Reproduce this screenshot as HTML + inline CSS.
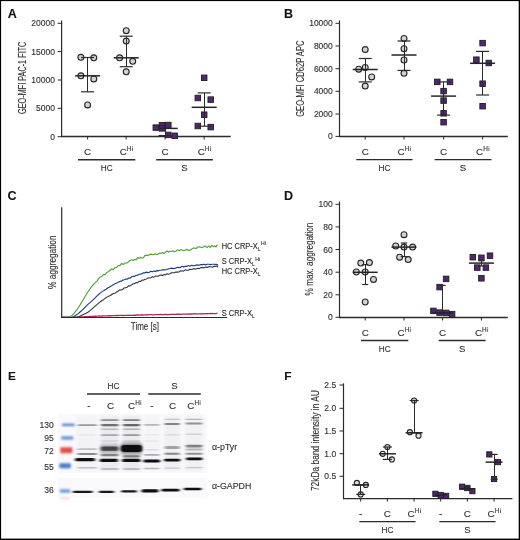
<!DOCTYPE html>
<html><head><meta charset="utf-8"><style>
html,body{margin:0;padding:0;background:#fff;}
body{width:520px;height:540px;overflow:hidden;position:relative;font-family:"Liberation Sans", sans-serif;}
svg{position:absolute;left:0;top:0;will-change:transform;}
svg text{font-family:"Liberation Sans", sans-serif;stroke:#303030;stroke-width:0.12px;}
</style></head><body>
<svg width="520" height="540" viewBox="0 0 520 540">
<rect x="0" y="0" width="520" height="540" fill="#fff"/>
<text x="7.8" y="18.2" font-size="12.5" text-anchor="start" font-weight="bold" fill="#111" >A</text>
<text transform="translate(25.7,114) rotate(-90)" font-size="10.5" fill="#303030" stroke="#303030" stroke-width="0.2" textLength="72.4" lengthAdjust="spacingAndGlyphs">GEO-MFI PAC-1 FITC</text>
<line x1="61.6" y1="20.5" x2="61.6" y2="137.0" stroke="#2b2b2b" stroke-width="1.2"/>
<line x1="57.6" y1="23.3" x2="61.6" y2="23.3" stroke="#2b2b2b" stroke-width="1"/>
<text x="55" y="26.3" font-size="8.5" text-anchor="end" font-weight="normal" fill="#303030" >20000</text>
<line x1="57.6" y1="51.6" x2="61.6" y2="51.6" stroke="#2b2b2b" stroke-width="1"/>
<text x="55" y="54.6" font-size="8.5" text-anchor="end" font-weight="normal" fill="#303030" >15000</text>
<line x1="57.6" y1="80" x2="61.6" y2="80" stroke="#2b2b2b" stroke-width="1"/>
<text x="55" y="83.0" font-size="8.5" text-anchor="end" font-weight="normal" fill="#303030" >10000</text>
<line x1="57.6" y1="108.3" x2="61.6" y2="108.3" stroke="#2b2b2b" stroke-width="1"/>
<text x="55" y="111.3" font-size="8.5" text-anchor="end" font-weight="normal" fill="#303030" >5000</text>
<line x1="57.6" y1="136.7" x2="61.6" y2="136.7" stroke="#2b2b2b" stroke-width="1"/>
<text x="55" y="139.7" font-size="8.5" text-anchor="end" font-weight="normal" fill="#303030" >0</text>
<line x1="61.1" y1="136.5" x2="230.7" y2="136.5" stroke="#2b2b2b" stroke-width="1.3"/>
<line x1="87.6" y1="136.5" x2="87.6" y2="139.5" stroke="#2b2b2b" stroke-width="1"/>
<line x1="126.2" y1="136.5" x2="126.2" y2="139.5" stroke="#2b2b2b" stroke-width="1"/>
<line x1="165.1" y1="136.5" x2="165.1" y2="139.5" stroke="#2b2b2b" stroke-width="1"/>
<line x1="204.2" y1="136.5" x2="204.2" y2="139.5" stroke="#2b2b2b" stroke-width="1"/>
<circle cx="80.9" cy="57.3" r="2.95" fill="#d3d3d7" stroke="#252525" stroke-width="1.1"/>
<circle cx="93.8" cy="57.8" r="2.95" fill="#d3d3d7" stroke="#252525" stroke-width="1.1"/>
<circle cx="80.9" cy="75.8" r="2.95" fill="#d3d3d7" stroke="#252525" stroke-width="1.1"/>
<circle cx="93.8" cy="78.9" r="2.95" fill="#d3d3d7" stroke="#252525" stroke-width="1.1"/>
<circle cx="87.6" cy="104.9" r="2.95" fill="#d3d3d7" stroke="#252525" stroke-width="1.1"/>
<line x1="87.5" y1="57.5" x2="87.5" y2="91.8" stroke="#2b2b2b" stroke-width="1"/>
<line x1="81.1" y1="57.5" x2="94.1" y2="57.5" stroke="#2b2b2b" stroke-width="1.2"/>
<line x1="81.1" y1="91.8" x2="94.1" y2="91.8" stroke="#2b2b2b" stroke-width="1.2"/>
<line x1="75.1" y1="75.8" x2="100.1" y2="75.8" stroke="#252525" stroke-width="1.5"/>
<circle cx="126.2" cy="30.7" r="2.95" fill="#d3d3d7" stroke="#252525" stroke-width="1.1"/>
<circle cx="126.2" cy="41.1" r="2.95" fill="#d3d3d7" stroke="#252525" stroke-width="1.1"/>
<circle cx="119.6" cy="57.8" r="2.95" fill="#d3d3d7" stroke="#252525" stroke-width="1.1"/>
<circle cx="132.7" cy="61.3" r="2.95" fill="#d3d3d7" stroke="#252525" stroke-width="1.1"/>
<circle cx="126.2" cy="71.8" r="2.95" fill="#d3d3d7" stroke="#252525" stroke-width="1.1"/>
<line x1="126.5" y1="36.2" x2="126.5" y2="66.7" stroke="#2b2b2b" stroke-width="1"/>
<line x1="119.7" y1="36.2" x2="132.7" y2="36.2" stroke="#2b2b2b" stroke-width="1.2"/>
<line x1="119.7" y1="66.7" x2="132.7" y2="66.7" stroke="#2b2b2b" stroke-width="1.2"/>
<line x1="113.7" y1="57.8" x2="138.7" y2="57.8" stroke="#252525" stroke-width="1.5"/>
<rect x="153.05" y="124.85" width="5.5" height="5.5" fill="#512672" stroke="#1e1e1e" stroke-width="0.9"/>
<rect x="159.25" y="122.45" width="5.5" height="5.5" fill="#512672" stroke="#1e1e1e" stroke-width="0.9"/>
<rect x="159.25" y="125.65" width="5.5" height="5.5" fill="#512672" stroke="#1e1e1e" stroke-width="0.9"/>
<rect x="165.55" y="122.25" width="5.5" height="5.5" fill="#512672" stroke="#1e1e1e" stroke-width="0.9"/>
<rect x="165.55" y="132.15" width="5.5" height="5.5" fill="#512672" stroke="#1e1e1e" stroke-width="0.9"/>
<rect x="171.95" y="133.05" width="5.5" height="5.5" fill="#512672" stroke="#1e1e1e" stroke-width="0.9"/>
<line x1="165.5" y1="128.4" x2="165.5" y2="135.6" stroke="#2b2b2b" stroke-width="1"/>
<line x1="158.6" y1="128.4" x2="171.6" y2="128.4" stroke="#2b2b2b" stroke-width="1.2"/>
<line x1="158.6" y1="135.6" x2="171.6" y2="135.6" stroke="#2b2b2b" stroke-width="1.2"/>
<line x1="159" y1="128.4" x2="177.7" y2="128.4" stroke="#252525" stroke-width="1.5"/>
<rect x="201.45" y="75.05" width="5.5" height="5.5" fill="#512672" stroke="#1e1e1e" stroke-width="0.9"/>
<rect x="195.05" y="95.25" width="5.5" height="5.5" fill="#512672" stroke="#1e1e1e" stroke-width="0.9"/>
<rect x="207.95" y="96.85" width="5.5" height="5.5" fill="#512672" stroke="#1e1e1e" stroke-width="0.9"/>
<rect x="201.45" y="111.95" width="5.5" height="5.5" fill="#512672" stroke="#1e1e1e" stroke-width="0.9"/>
<rect x="195.05" y="123.25" width="5.5" height="5.5" fill="#512672" stroke="#1e1e1e" stroke-width="0.9"/>
<rect x="207.95" y="124.35" width="5.5" height="5.5" fill="#512672" stroke="#1e1e1e" stroke-width="0.9"/>
<line x1="204.5" y1="92.9" x2="204.5" y2="126.2" stroke="#2b2b2b" stroke-width="1"/>
<line x1="197.7" y1="92.9" x2="210.7" y2="92.9" stroke="#2b2b2b" stroke-width="1.2"/>
<line x1="197.7" y1="126.2" x2="210.7" y2="126.2" stroke="#2b2b2b" stroke-width="1.2"/>
<line x1="191.7" y1="107.3" x2="216.7" y2="107.3" stroke="#252525" stroke-width="1.5"/>
<text x="87.6" y="154.8" font-size="9.9" text-anchor="middle" font-weight="normal" fill="#303030" >C</text>
<text x="119.71" y="154.8" font-size="9.9" fill="#303030">C<tspan font-size="6.4" dy="-3.9">H</tspan></text>
<rect x="132.09" y="147.70" width="0.8" height="3.2" fill="#303030" opacity="0.9"/>
<rect x="132.09" y="146.40" width="0.8" height="0.8" fill="#303030" opacity="0.9"/>
<text x="165.1" y="154.8" font-size="9.9" text-anchor="middle" font-weight="normal" fill="#303030" >C</text>
<text x="197.71" y="154.8" font-size="9.9" fill="#303030">C<tspan font-size="6.4" dy="-3.9">H</tspan></text>
<rect x="210.09" y="147.70" width="0.8" height="3.2" fill="#303030" opacity="0.9"/>
<rect x="210.09" y="146.40" width="0.8" height="0.8" fill="#303030" opacity="0.9"/>
<line x1="78" y1="159.7" x2="135.3" y2="159.7" stroke="#2b2b2b" stroke-width="1.4"/>
<text x="106.65" y="170.7" font-size="9.6" text-anchor="middle" font-weight="normal" fill="#303030" textLength="11.9" lengthAdjust="spacingAndGlyphs" >HC</text>
<line x1="156.2" y1="159.7" x2="212.9" y2="159.7" stroke="#2b2b2b" stroke-width="1.4"/>
<text x="184.55" y="170.7" font-size="9.6" text-anchor="middle" font-weight="normal" fill="#303030" >S</text>
<text x="283.9" y="18.3" font-size="12.5" text-anchor="start" font-weight="bold" fill="#111" >B</text>
<text transform="translate(303.8,116.8) rotate(-90)" font-size="10.5" fill="#303030" stroke="#303030" stroke-width="0.2" textLength="76.3" lengthAdjust="spacingAndGlyphs">GEO-MFI CD62P APC</text>
<line x1="339.5" y1="20.5" x2="339.5" y2="137.0" stroke="#2b2b2b" stroke-width="1.2"/>
<line x1="335.5" y1="23.3" x2="339.5" y2="23.3" stroke="#2b2b2b" stroke-width="1"/>
<text x="332.8" y="26.3" font-size="8.5" text-anchor="end" font-weight="normal" fill="#303030" >10000</text>
<line x1="335.5" y1="46" x2="339.5" y2="46" stroke="#2b2b2b" stroke-width="1"/>
<text x="332.8" y="49.0" font-size="8.5" text-anchor="end" font-weight="normal" fill="#303030" >8000</text>
<line x1="335.5" y1="68.7" x2="339.5" y2="68.7" stroke="#2b2b2b" stroke-width="1"/>
<text x="332.8" y="71.7" font-size="8.5" text-anchor="end" font-weight="normal" fill="#303030" >6000</text>
<line x1="335.5" y1="91.3" x2="339.5" y2="91.3" stroke="#2b2b2b" stroke-width="1"/>
<text x="332.8" y="94.3" font-size="8.5" text-anchor="end" font-weight="normal" fill="#303030" >4000</text>
<line x1="335.5" y1="114" x2="339.5" y2="114" stroke="#2b2b2b" stroke-width="1"/>
<text x="332.8" y="117.0" font-size="8.5" text-anchor="end" font-weight="normal" fill="#303030" >2000</text>
<line x1="335.5" y1="136.4" x2="339.5" y2="136.4" stroke="#2b2b2b" stroke-width="1"/>
<text x="332.8" y="139.4" font-size="8.5" text-anchor="end" font-weight="normal" fill="#303030" >0</text>
<line x1="339.0" y1="136.5" x2="507.8" y2="136.5" stroke="#2b2b2b" stroke-width="1.3"/>
<line x1="365.2" y1="136.5" x2="365.2" y2="139.5" stroke="#2b2b2b" stroke-width="1"/>
<line x1="404" y1="136.5" x2="404" y2="139.5" stroke="#2b2b2b" stroke-width="1"/>
<line x1="443.6" y1="136.5" x2="443.6" y2="139.5" stroke="#2b2b2b" stroke-width="1"/>
<line x1="482.6" y1="136.5" x2="482.6" y2="139.5" stroke="#2b2b2b" stroke-width="1"/>
<circle cx="365.2" cy="49.6" r="2.95" fill="#d3d3d7" stroke="#252525" stroke-width="1.1"/>
<circle cx="358.7" cy="69.2" r="2.95" fill="#d3d3d7" stroke="#252525" stroke-width="1.1"/>
<circle cx="365.2" cy="67.4" r="2.95" fill="#d3d3d7" stroke="#252525" stroke-width="1.1"/>
<circle cx="371.7" cy="76.9" r="2.95" fill="#d3d3d7" stroke="#252525" stroke-width="1.1"/>
<circle cx="365.2" cy="86.1" r="2.95" fill="#d3d3d7" stroke="#252525" stroke-width="1.1"/>
<line x1="365.5" y1="58.5" x2="365.5" y2="81.9" stroke="#2b2b2b" stroke-width="1"/>
<line x1="358.7" y1="58.5" x2="371.7" y2="58.5" stroke="#2b2b2b" stroke-width="1.2"/>
<line x1="358.7" y1="81.9" x2="371.7" y2="81.9" stroke="#2b2b2b" stroke-width="1.2"/>
<line x1="352.7" y1="69.5" x2="377.7" y2="69.5" stroke="#252525" stroke-width="1.5"/>
<circle cx="404" cy="38.4" r="2.95" fill="#d3d3d7" stroke="#252525" stroke-width="1.1"/>
<circle cx="404" cy="48.7" r="2.95" fill="#d3d3d7" stroke="#252525" stroke-width="1.1"/>
<circle cx="404" cy="60" r="2.95" fill="#d3d3d7" stroke="#252525" stroke-width="1.1"/>
<circle cx="404" cy="73.3" r="2.95" fill="#d3d3d7" stroke="#252525" stroke-width="1.1"/>
<line x1="404.5" y1="41" x2="404.5" y2="70.4" stroke="#2b2b2b" stroke-width="1"/>
<line x1="397.5" y1="41" x2="410.5" y2="41" stroke="#2b2b2b" stroke-width="1.2"/>
<line x1="397.5" y1="70.4" x2="410.5" y2="70.4" stroke="#2b2b2b" stroke-width="1.2"/>
<line x1="391.5" y1="55" x2="416.5" y2="55" stroke="#252525" stroke-width="1.5"/>
<rect x="434.55" y="79.15" width="5.5" height="5.5" fill="#512672" stroke="#1e1e1e" stroke-width="0.9"/>
<rect x="447.25" y="79.15" width="5.5" height="5.5" fill="#512672" stroke="#1e1e1e" stroke-width="0.9"/>
<rect x="440.85" y="88.35" width="5.5" height="5.5" fill="#512672" stroke="#1e1e1e" stroke-width="0.9"/>
<rect x="440.85" y="97.85" width="5.5" height="5.5" fill="#512672" stroke="#1e1e1e" stroke-width="0.9"/>
<rect x="440.85" y="110.55" width="5.5" height="5.5" fill="#512672" stroke="#1e1e1e" stroke-width="0.9"/>
<rect x="440.85" y="119.45" width="5.5" height="5.5" fill="#512672" stroke="#1e1e1e" stroke-width="0.9"/>
<line x1="443.5" y1="81.9" x2="443.5" y2="115.1" stroke="#2b2b2b" stroke-width="1"/>
<line x1="437.1" y1="81.9" x2="450.1" y2="81.9" stroke="#2b2b2b" stroke-width="1.2"/>
<line x1="437.1" y1="115.1" x2="450.1" y2="115.1" stroke="#2b2b2b" stroke-width="1.2"/>
<line x1="431.1" y1="96.1" x2="456.1" y2="96.1" stroke="#252525" stroke-width="1.5"/>
<rect x="479.85" y="40.35" width="5.5" height="5.5" fill="#512672" stroke="#1e1e1e" stroke-width="0.9"/>
<rect x="473.65" y="56.95" width="5.5" height="5.5" fill="#512672" stroke="#1e1e1e" stroke-width="0.9"/>
<rect x="486.05" y="60.25" width="5.5" height="5.5" fill="#512672" stroke="#1e1e1e" stroke-width="0.9"/>
<rect x="479.85" y="80.95" width="5.5" height="5.5" fill="#512672" stroke="#1e1e1e" stroke-width="0.9"/>
<rect x="479.85" y="103.45" width="5.5" height="5.5" fill="#512672" stroke="#1e1e1e" stroke-width="0.9"/>
<line x1="482.5" y1="51.4" x2="482.5" y2="95" stroke="#2b2b2b" stroke-width="1"/>
<line x1="476.1" y1="51.4" x2="489.1" y2="51.4" stroke="#2b2b2b" stroke-width="1.2"/>
<line x1="476.1" y1="95" x2="489.1" y2="95" stroke="#2b2b2b" stroke-width="1.2"/>
<line x1="470.1" y1="63.3" x2="495.1" y2="63.3" stroke="#252525" stroke-width="1.5"/>
<text x="365.2" y="154.8" font-size="9.9" text-anchor="middle" font-weight="normal" fill="#303030" >C</text>
<text x="397.51" y="154.8" font-size="9.9" fill="#303030">C<tspan font-size="6.4" dy="-3.9">H</tspan></text>
<rect x="409.89" y="147.70" width="0.8" height="3.2" fill="#303030" opacity="0.9"/>
<rect x="409.89" y="146.40" width="0.8" height="0.8" fill="#303030" opacity="0.9"/>
<text x="443.6" y="154.8" font-size="9.9" text-anchor="middle" font-weight="normal" fill="#303030" >C</text>
<text x="476.11" y="154.8" font-size="9.9" fill="#303030">C<tspan font-size="6.4" dy="-3.9">H</tspan></text>
<rect x="488.49" y="147.70" width="0.8" height="3.2" fill="#303030" opacity="0.9"/>
<rect x="488.49" y="146.40" width="0.8" height="0.8" fill="#303030" opacity="0.9"/>
<line x1="356.3" y1="159.6" x2="412.6" y2="159.6" stroke="#2b2b2b" stroke-width="1.4"/>
<text x="384.45000000000005" y="170.7" font-size="9.6" text-anchor="middle" font-weight="normal" fill="#303030" textLength="11.9" lengthAdjust="spacingAndGlyphs" >HC</text>
<line x1="434.6" y1="159.6" x2="491.5" y2="159.6" stroke="#2b2b2b" stroke-width="1.4"/>
<text x="463.05" y="170.7" font-size="9.6" text-anchor="middle" font-weight="normal" fill="#303030" >S</text>
<text x="283.9" y="200.2" font-size="12.5" text-anchor="start" font-weight="bold" fill="#111" >D</text>
<text transform="translate(312.5,295.4) rotate(-90)" font-size="10.5" fill="#303030" stroke="#303030" stroke-width="0.2" textLength="72.7" lengthAdjust="spacingAndGlyphs">% max. aggregation</text>
<line x1="339.5" y1="201.5" x2="339.5" y2="318.0" stroke="#2b2b2b" stroke-width="1.2"/>
<line x1="335.5" y1="204.3" x2="339.5" y2="204.3" stroke="#2b2b2b" stroke-width="1"/>
<text x="332.8" y="207.3" font-size="8.5" text-anchor="end" font-weight="normal" fill="#303030" >100</text>
<line x1="335.5" y1="226.9" x2="339.5" y2="226.9" stroke="#2b2b2b" stroke-width="1"/>
<text x="332.8" y="229.9" font-size="8.5" text-anchor="end" font-weight="normal" fill="#303030" >80</text>
<line x1="335.5" y1="249.5" x2="339.5" y2="249.5" stroke="#2b2b2b" stroke-width="1"/>
<text x="332.8" y="252.5" font-size="8.5" text-anchor="end" font-weight="normal" fill="#303030" >60</text>
<line x1="335.5" y1="272.2" x2="339.5" y2="272.2" stroke="#2b2b2b" stroke-width="1"/>
<text x="332.8" y="275.2" font-size="8.5" text-anchor="end" font-weight="normal" fill="#303030" >40</text>
<line x1="335.5" y1="294.8" x2="339.5" y2="294.8" stroke="#2b2b2b" stroke-width="1"/>
<text x="332.8" y="297.8" font-size="8.5" text-anchor="end" font-weight="normal" fill="#303030" >20</text>
<line x1="335.5" y1="317.3" x2="339.5" y2="317.3" stroke="#2b2b2b" stroke-width="1"/>
<text x="332.8" y="320.3" font-size="8.5" text-anchor="end" font-weight="normal" fill="#303030" >0</text>
<line x1="339.0" y1="317.5" x2="507.8" y2="317.5" stroke="#2b2b2b" stroke-width="1.3"/>
<line x1="365.2" y1="317.5" x2="365.2" y2="320.5" stroke="#2b2b2b" stroke-width="1"/>
<line x1="404" y1="317.5" x2="404" y2="320.5" stroke="#2b2b2b" stroke-width="1"/>
<line x1="442.6" y1="317.5" x2="442.6" y2="320.5" stroke="#2b2b2b" stroke-width="1"/>
<line x1="481.4" y1="317.5" x2="481.4" y2="320.5" stroke="#2b2b2b" stroke-width="1"/>
<circle cx="360.8" cy="263.1" r="2.95" fill="#d3d3d7" stroke="#252525" stroke-width="1.1"/>
<circle cx="369.4" cy="262.6" r="2.95" fill="#d3d3d7" stroke="#252525" stroke-width="1.1"/>
<circle cx="356.3" cy="272" r="2.95" fill="#d3d3d7" stroke="#252525" stroke-width="1.1"/>
<circle cx="365.2" cy="272" r="2.95" fill="#d3d3d7" stroke="#252525" stroke-width="1.1"/>
<circle cx="373.5" cy="279.4" r="2.95" fill="#d3d3d7" stroke="#252525" stroke-width="1.1"/>
<circle cx="365.2" cy="302" r="2.95" fill="#d3d3d7" stroke="#252525" stroke-width="1.1"/>
<line x1="365.5" y1="264.6" x2="365.5" y2="284.5" stroke="#2b2b2b" stroke-width="1"/>
<line x1="362.2" y1="264.6" x2="368.2" y2="264.6" stroke="#2b2b2b" stroke-width="1.2"/>
<line x1="362.2" y1="284.5" x2="368.2" y2="284.5" stroke="#2b2b2b" stroke-width="1.2"/>
<line x1="352.7" y1="272.3" x2="377.7" y2="272.3" stroke="#252525" stroke-width="1.5"/>
<circle cx="404" cy="234.7" r="2.95" fill="#d3d3d7" stroke="#252525" stroke-width="1.1"/>
<circle cx="395.7" cy="246" r="2.95" fill="#d3d3d7" stroke="#252525" stroke-width="1.1"/>
<circle cx="404" cy="247.1" r="2.95" fill="#d3d3d7" stroke="#252525" stroke-width="1.1"/>
<circle cx="412.6" cy="247.1" r="2.95" fill="#d3d3d7" stroke="#252525" stroke-width="1.1"/>
<circle cx="399.6" cy="257.2" r="2.95" fill="#d3d3d7" stroke="#252525" stroke-width="1.1"/>
<circle cx="408.2" cy="259.6" r="2.95" fill="#d3d3d7" stroke="#252525" stroke-width="1.1"/>
<line x1="404.5" y1="243" x2="404.5" y2="256.6" stroke="#2b2b2b" stroke-width="1"/>
<line x1="400.75" y1="243" x2="407.25" y2="243" stroke="#2b2b2b" stroke-width="1.2"/>
<line x1="400.75" y1="256.6" x2="407.25" y2="256.6" stroke="#2b2b2b" stroke-width="1.2"/>
<line x1="391.5" y1="247.1" x2="416.5" y2="247.1" stroke="#252525" stroke-width="1.5"/>
<rect x="443.35" y="276.15" width="5.5" height="5.5" fill="#512672" stroke="#1e1e1e" stroke-width="0.9"/>
<rect x="436.85" y="284.35" width="5.5" height="5.5" fill="#512672" stroke="#1e1e1e" stroke-width="0.9"/>
<rect x="430.65" y="308.15" width="5.5" height="5.5" fill="#512672" stroke="#1e1e1e" stroke-width="0.9"/>
<rect x="436.85" y="309.85" width="5.5" height="5.5" fill="#512672" stroke="#1e1e1e" stroke-width="0.9"/>
<rect x="443.35" y="310.15" width="5.5" height="5.5" fill="#512672" stroke="#1e1e1e" stroke-width="0.9"/>
<rect x="449.35" y="311.35" width="5.5" height="5.5" fill="#512672" stroke="#1e1e1e" stroke-width="0.9"/>
<line x1="442.5" y1="285.4" x2="442.5" y2="313" stroke="#2b2b2b" stroke-width="1"/>
<line x1="439.6" y1="285.4" x2="445.6" y2="285.4" stroke="#2b2b2b" stroke-width="1.2"/>
<line x1="439.6" y1="313" x2="445.6" y2="313" stroke="#2b2b2b" stroke-width="1.2"/>
<line x1="432.6" y1="313" x2="452.6" y2="313" stroke="#252525" stroke-width="1.5"/>
<rect x="470.05" y="254.45" width="5.5" height="5.5" fill="#512672" stroke="#1e1e1e" stroke-width="0.9"/>
<rect x="478.65" y="255.05" width="5.5" height="5.5" fill="#512672" stroke="#1e1e1e" stroke-width="0.9"/>
<rect x="487.25" y="252.95" width="5.5" height="5.5" fill="#512672" stroke="#1e1e1e" stroke-width="0.9"/>
<rect x="474.55" y="264.85" width="5.5" height="5.5" fill="#512672" stroke="#1e1e1e" stroke-width="0.9"/>
<rect x="483.15" y="264.85" width="5.5" height="5.5" fill="#512672" stroke="#1e1e1e" stroke-width="0.9"/>
<rect x="478.65" y="275.55" width="5.5" height="5.5" fill="#512672" stroke="#1e1e1e" stroke-width="0.9"/>
<line x1="481.5" y1="260.8" x2="481.5" y2="266" stroke="#2b2b2b" stroke-width="1"/>
<line x1="478.4" y1="260.8" x2="484.4" y2="260.8" stroke="#2b2b2b" stroke-width="1.2"/>
<line x1="478.4" y1="266" x2="484.4" y2="266" stroke="#2b2b2b" stroke-width="1.2"/>
<line x1="468.9" y1="263.1" x2="493.9" y2="263.1" stroke="#252525" stroke-width="1.5"/>
<text x="365.2" y="335.7" font-size="9.9" text-anchor="middle" font-weight="normal" fill="#303030" >C</text>
<text x="397.51" y="335.7" font-size="9.9" fill="#303030">C<tspan font-size="6.4" dy="-3.9">H</tspan></text>
<rect x="409.89" y="328.60" width="0.8" height="3.2" fill="#303030" opacity="0.9"/>
<rect x="409.89" y="327.30" width="0.8" height="0.8" fill="#303030" opacity="0.9"/>
<text x="442.6" y="335.7" font-size="9.9" text-anchor="middle" font-weight="normal" fill="#303030" >C</text>
<text x="474.91" y="335.7" font-size="9.9" fill="#303030">C<tspan font-size="6.4" dy="-3.9">H</tspan></text>
<rect x="487.29" y="328.60" width="0.8" height="3.2" fill="#303030" opacity="0.9"/>
<rect x="487.29" y="327.30" width="0.8" height="0.8" fill="#303030" opacity="0.9"/>
<line x1="361" y1="340.5" x2="408.3" y2="340.5" stroke="#2b2b2b" stroke-width="1.4"/>
<text x="384.65" y="351.5" font-size="9.6" text-anchor="middle" font-weight="normal" fill="#303030" textLength="11.9" lengthAdjust="spacingAndGlyphs" >HC</text>
<line x1="438.7" y1="340.5" x2="485.6" y2="340.5" stroke="#2b2b2b" stroke-width="1.4"/>
<text x="462.15" y="351.5" font-size="9.6" text-anchor="middle" font-weight="normal" fill="#303030" >S</text>
<text x="284.2" y="380.4" font-size="11.8" text-anchor="start" font-weight="bold" fill="#111" >F</text>
<text transform="translate(318.6,491.1) rotate(-90)" font-size="10.5" fill="#303030" stroke="#303030" stroke-width="0.2" textLength="101" lengthAdjust="spacingAndGlyphs">72kDa band intensity in AU</text>
<line x1="343.5" y1="383.3" x2="343.5" y2="499.1" stroke="#2b2b2b" stroke-width="1.2"/>
<line x1="339.5" y1="385" x2="343.5" y2="385" stroke="#2b2b2b" stroke-width="1"/>
<text x="336.2" y="388.0" font-size="8.5" text-anchor="end" font-weight="normal" fill="#303030" >2.5</text>
<line x1="339.5" y1="408.3" x2="343.5" y2="408.3" stroke="#2b2b2b" stroke-width="1"/>
<text x="336.2" y="411.3" font-size="8.5" text-anchor="end" font-weight="normal" fill="#303030" >2.0</text>
<line x1="339.5" y1="431" x2="343.5" y2="431" stroke="#2b2b2b" stroke-width="1"/>
<text x="336.2" y="434.0" font-size="8.5" text-anchor="end" font-weight="normal" fill="#303030" >1.5</text>
<line x1="339.5" y1="453.7" x2="343.5" y2="453.7" stroke="#2b2b2b" stroke-width="1"/>
<text x="336.2" y="456.7" font-size="8.5" text-anchor="end" font-weight="normal" fill="#303030" >1.0</text>
<line x1="339.5" y1="476.3" x2="343.5" y2="476.3" stroke="#2b2b2b" stroke-width="1"/>
<text x="336.2" y="479.3" font-size="8.5" text-anchor="end" font-weight="normal" fill="#303030" >0.5</text>
<line x1="343.0" y1="498.6" x2="512.4" y2="498.6" stroke="#2b2b2b" stroke-width="1.3"/>
<line x1="360.7" y1="498.6" x2="360.7" y2="501.6" stroke="#2b2b2b" stroke-width="1"/>
<line x1="387.4" y1="498.6" x2="387.4" y2="501.6" stroke="#2b2b2b" stroke-width="1"/>
<line x1="414.1" y1="498.6" x2="414.1" y2="501.6" stroke="#2b2b2b" stroke-width="1"/>
<line x1="440.7" y1="498.6" x2="440.7" y2="501.6" stroke="#2b2b2b" stroke-width="1"/>
<line x1="467.4" y1="498.6" x2="467.4" y2="501.6" stroke="#2b2b2b" stroke-width="1"/>
<line x1="494.1" y1="498.6" x2="494.1" y2="501.6" stroke="#2b2b2b" stroke-width="1"/>
<circle cx="356.9" cy="482.9" r="2.55" fill="#e0e0e0" stroke="#252525" stroke-width="1.1"/>
<circle cx="365.8" cy="484.9" r="2.55" fill="#e0e0e0" stroke="#252525" stroke-width="1.1"/>
<circle cx="360.7" cy="494.4" r="2.55" fill="#e0e0e0" stroke="#252525" stroke-width="1.1"/>
<line x1="360.5" y1="484.9" x2="360.5" y2="494.4" stroke="#2b2b2b" stroke-width="1"/>
<line x1="356.2" y1="484.9" x2="365.2" y2="484.9" stroke="#2b2b2b" stroke-width="1.2"/>
<line x1="356.2" y1="494.4" x2="365.2" y2="494.4" stroke="#2b2b2b" stroke-width="1.2"/>
<line x1="352.2" y1="484.9" x2="369.2" y2="484.9" stroke="#252525" stroke-width="1.5"/>
<circle cx="387.4" cy="447" r="2.55" fill="#e0e0e0" stroke="#252525" stroke-width="1.1"/>
<circle cx="382.7" cy="453.8" r="2.55" fill="#e0e0e0" stroke="#252525" stroke-width="1.1"/>
<circle cx="391.9" cy="459.4" r="2.55" fill="#e0e0e0" stroke="#252525" stroke-width="1.1"/>
<line x1="387.5" y1="447" x2="387.5" y2="459.4" stroke="#2b2b2b" stroke-width="1"/>
<line x1="382.9" y1="447" x2="391.9" y2="447" stroke="#2b2b2b" stroke-width="1.2"/>
<line x1="382.9" y1="459.4" x2="391.9" y2="459.4" stroke="#2b2b2b" stroke-width="1.2"/>
<line x1="378.9" y1="453.8" x2="395.9" y2="453.8" stroke="#252525" stroke-width="1.5"/>
<circle cx="414.1" cy="400.5" r="2.55" fill="#e0e0e0" stroke="#252525" stroke-width="1.1"/>
<circle cx="409.9" cy="432.2" r="2.55" fill="#e0e0e0" stroke="#252525" stroke-width="1.1"/>
<circle cx="418.5" cy="435.7" r="2.55" fill="#e0e0e0" stroke="#252525" stroke-width="1.1"/>
<line x1="414.5" y1="400.5" x2="414.5" y2="432.8" stroke="#2b2b2b" stroke-width="1"/>
<line x1="409.6" y1="400.5" x2="418.6" y2="400.5" stroke="#2b2b2b" stroke-width="1.2"/>
<line x1="409.6" y1="432.8" x2="418.6" y2="432.8" stroke="#2b2b2b" stroke-width="1.2"/>
<line x1="405.6" y1="432.8" x2="422.6" y2="432.8" stroke="#252525" stroke-width="1.5"/>
<rect x="432.80" y="491.20" width="5.2" height="5.2" fill="#512672" stroke="#1e1e1e" stroke-width="0.9"/>
<rect x="438.10" y="492.40" width="5.2" height="5.2" fill="#512672" stroke="#1e1e1e" stroke-width="0.9"/>
<rect x="443.50" y="493.30" width="5.2" height="5.2" fill="#512672" stroke="#1e1e1e" stroke-width="0.9"/>
<line x1="434.7" y1="495" x2="446.7" y2="495" stroke="#252525" stroke-width="1.5"/>
<rect x="459.50" y="484.10" width="5.2" height="5.2" fill="#512672" stroke="#1e1e1e" stroke-width="0.9"/>
<rect x="464.80" y="485.30" width="5.2" height="5.2" fill="#512672" stroke="#1e1e1e" stroke-width="0.9"/>
<rect x="469.80" y="488.50" width="5.2" height="5.2" fill="#512672" stroke="#1e1e1e" stroke-width="0.9"/>
<line x1="467.5" y1="487" x2="467.5" y2="490.5" stroke="#2b2b2b" stroke-width="1"/>
<line x1="464.4" y1="487" x2="470.4" y2="487" stroke="#2b2b2b" stroke-width="1.2"/>
<line x1="464.4" y1="490.5" x2="470.4" y2="490.5" stroke="#2b2b2b" stroke-width="1.2"/>
<line x1="460.4" y1="488.8" x2="474.4" y2="488.8" stroke="#252525" stroke-width="1.5"/>
<rect x="486.70" y="451.80" width="5.2" height="5.2" fill="#512672" stroke="#1e1e1e" stroke-width="0.9"/>
<rect x="495.30" y="459.50" width="5.2" height="5.2" fill="#512672" stroke="#1e1e1e" stroke-width="0.9"/>
<rect x="491.50" y="476.40" width="5.2" height="5.2" fill="#512672" stroke="#1e1e1e" stroke-width="0.9"/>
<line x1="494.5" y1="454.4" x2="494.5" y2="479.3" stroke="#2b2b2b" stroke-width="1"/>
<line x1="490.6" y1="454.4" x2="497.6" y2="454.4" stroke="#2b2b2b" stroke-width="1.2"/>
<line x1="490.6" y1="479.3" x2="497.6" y2="479.3" stroke="#2b2b2b" stroke-width="1.2"/>
<line x1="485.6" y1="462.1" x2="502.6" y2="462.1" stroke="#252525" stroke-width="1.5"/>
<text x="360.7" y="516.9" font-size="9.9" text-anchor="middle" font-weight="normal" fill="#303030" >-</text>
<text x="387.4" y="516.9" font-size="9.9" text-anchor="middle" font-weight="normal" fill="#303030" >C</text>
<text x="407.61" y="516.9" font-size="9.9" fill="#303030">C<tspan font-size="6.4" dy="-3.9">H</tspan></text>
<rect x="419.99" y="509.80" width="0.8" height="3.2" fill="#303030" opacity="0.9"/>
<rect x="419.99" y="508.50" width="0.8" height="0.8" fill="#303030" opacity="0.9"/>
<text x="440.7" y="516.9" font-size="9.9" text-anchor="middle" font-weight="normal" fill="#303030" >-</text>
<text x="467.4" y="516.9" font-size="9.9" text-anchor="middle" font-weight="normal" fill="#303030" >C</text>
<text x="487.61" y="516.9" font-size="9.9" fill="#303030">C<tspan font-size="6.4" dy="-3.9">H</tspan></text>
<rect x="499.99" y="509.80" width="0.8" height="3.2" fill="#303030" opacity="0.9"/>
<rect x="499.99" y="508.50" width="0.8" height="0.8" fill="#303030" opacity="0.9"/>
<line x1="359.3" y1="521.6" x2="415.6" y2="521.6" stroke="#2b2b2b" stroke-width="1.4"/>
<text x="387.45000000000005" y="532.8" font-size="9.6" text-anchor="middle" font-weight="normal" fill="#303030" textLength="11.9" lengthAdjust="spacingAndGlyphs" >HC</text>
<line x1="439.3" y1="521.6" x2="495.6" y2="521.6" stroke="#2b2b2b" stroke-width="1.4"/>
<text x="467.45000000000005" y="532.8" font-size="9.6" text-anchor="middle" font-weight="normal" fill="#303030" >S</text>
<text x="7.5" y="200.3" font-size="12.5" text-anchor="start" font-weight="bold" fill="#111" >C</text>
<text transform="translate(55.6,288.9) rotate(-90)" font-size="11" fill="#303030" stroke="#303030" stroke-width="0.2" textLength="53.5" lengthAdjust="spacingAndGlyphs">% aggregation</text>
<polyline points="62.00,317.40 62.92,317.40 64.19,317.41 65.69,317.42 67.33,317.43 69.00,317.43 70.59,317.42 72.00,317.40 73.43,317.36 74.74,317.30 76.00,317.23 77.26,317.16 78.57,317.08 80.00,317.00 81.23,316.94 82.39,316.87 83.57,316.81 84.84,316.74 86.28,316.67 87.98,316.59 90.00,316.50 90.96,316.46 91.91,316.42 92.86,316.36 93.82,316.34 94.81,316.26 95.84,316.24 96.92,316.14 98.06,316.16 99.28,316.02 100.59,316.07 102.00,316.00 103.52,315.96 105.17,315.85 106.96,315.92 108.90,315.67 111.00,315.77 111.96,315.65 112.96,315.69 113.99,315.55 115.05,315.69 116.14,315.51 117.26,315.43 118.41,315.60 119.58,315.35 120.78,315.40 122.00,315.40 123.25,315.52 124.52,315.29 125.81,315.44 127.12,315.40 128.44,315.34 129.79,315.16 131.15,315.30 132.53,315.33 133.92,315.06 135.32,315.24 136.73,314.95 138.16,315.01 139.59,315.14 141.03,314.93 142.48,315.01 143.94,314.82 145.40,314.96 146.86,314.75 148.33,314.93 149.79,314.68 151.26,314.66 152.73,314.83 154.19,314.59 155.65,314.66 157.11,314.71 158.56,314.55 160.00,314.65 161.23,314.50 162.49,314.64 163.79,314.63 165.12,314.39 166.48,314.48 167.87,314.55 169.28,314.52 170.71,314.30 172.17,314.44 173.64,314.29 175.12,314.32 176.62,314.23 178.13,314.25 179.65,314.12 181.18,314.29 182.70,314.09 184.23,314.15 185.76,314.03 187.28,313.88 188.80,314.07 190.31,313.93 191.81,313.98 193.30,313.94 194.77,313.73 196.23,313.87 197.66,313.79 199.08,313.93 200.47,313.86 201.83,313.66 203.16,313.82 204.47,313.55 205.74,313.69 206.97,313.77 208.16,313.72 209.32,313.68 210.43,313.46 211.50,313.54 212.51,313.45 213.48,313.59 214.40,313.54 215.26,313.59 216.07,313.49 216.82,313.37 217.50,313.44" fill="none" stroke="#b3294a" stroke-width="1.3" stroke-linejoin="round"/>
<polyline points="62.00,317.40 62.93,317.40 64.22,317.41 65.76,317.41 67.46,317.42 69.23,317.42 70.96,317.42 72.57,317.42 73.95,317.41 75.00,317.40 76.74,317.39 77.50,317.10 79.03,316.49 80.87,315.66 82.70,314.80 84.43,314.02 86.17,313.20 87.90,312.20 89.63,310.90 91.37,309.41 93.10,307.90 94.84,306.39 96.57,304.86 98.30,303.40 100.00,302.06 101.70,300.78 103.40,299.67 105.18,298.32 106.97,297.15 108.60,296.19 110.36,295.55 112.40,294.05 113.65,293.46 115.10,293.17 116.67,292.06 118.26,290.99 119.80,289.89 121.28,290.01 122.76,289.25 124.24,287.95 125.72,287.64 127.20,287.24 128.68,285.71 130.16,285.88 131.64,284.84 133.12,283.79 134.60,283.61 136.08,282.45 137.56,282.58 139.04,281.32 140.52,281.50 142.00,280.04 143.48,280.23 144.96,279.31 146.43,278.94 147.91,277.86 149.40,278.06 150.90,277.69 152.40,276.75 153.90,277.11 155.40,276.10 156.90,276.27 158.32,276.11 159.68,275.22 161.06,275.14 162.57,275.41 164.30,274.44 165.56,274.82 166.95,273.74 168.44,274.32 169.97,273.69 171.51,272.68 173.00,272.70 174.42,272.73 175.70,272.04 177.50,272.16 179.11,271.93 180.61,270.80 182.08,271.00 183.60,271.09 185.18,269.84 186.76,270.31 188.34,270.21 189.92,269.29 191.50,269.50 193.08,268.89 194.66,268.82 196.25,268.93 197.83,268.30 199.40,268.58 200.94,267.61 202.45,267.41 203.96,267.87 205.53,267.10 207.20,267.41 208.79,266.66 210.56,266.74 212.39,267.17 214.11,266.16 215.60,266.46 216.70,266.06 217.69,266.96 217.50,266.39" fill="none" stroke="#303644" stroke-width="1.1" stroke-linejoin="round"/>
<polyline points="62.00,317.40 63.18,317.40 64.89,317.41 66.82,317.41 68.63,317.41 70.00,317.40 71.38,317.49 72.40,317.20 73.90,316.43 75.69,315.34 77.50,314.10 79.23,312.73 80.96,311.20 82.70,309.60 84.43,307.89 86.17,306.11 87.90,304.40 89.63,302.87 91.37,301.43 93.10,299.90 94.84,298.17 96.57,296.36 98.30,294.70 99.87,293.36 101.43,292.13 103.40,290.87 104.67,289.92 106.10,289.20 107.64,288.06 109.22,287.22 110.76,286.16 112.20,285.49 113.80,284.38 115.34,283.54 116.83,283.01 118.31,282.13 119.80,281.56 121.29,281.18 122.77,280.07 124.25,279.72 125.72,279.08 127.20,279.23 128.68,277.98 130.16,278.22 131.64,276.76 133.12,276.31 134.60,276.31 136.08,275.42 137.56,275.30 139.04,274.20 140.52,274.20 142.00,273.65 143.48,272.77 144.96,272.88 146.43,272.11 147.91,272.61 149.40,272.20 150.90,271.19 152.40,271.70 153.90,271.08 155.40,271.39 156.90,270.62 158.32,270.84 159.68,270.20 161.06,270.23 162.57,269.74 164.30,269.89 165.56,269.74 166.95,269.62 168.44,268.74 169.97,268.58 171.51,268.12 173.00,268.65 174.42,268.34 175.70,268.22 177.50,267.21 179.11,267.65 180.61,267.38 182.08,266.27 183.60,266.86 185.18,266.24 186.76,266.36 188.34,265.57 189.92,266.18 191.50,265.34 193.08,265.58 194.66,265.74 196.25,264.89 197.83,265.11 199.40,265.06 200.94,264.64 202.45,264.60 203.96,264.20 205.53,264.87 207.20,264.24 208.79,264.22 210.56,264.58 212.39,264.28 214.11,264.22 215.60,264.44 216.70,264.23 217.69,265.05 217.50,264.82" fill="none" stroke="#1f3f82" stroke-width="1.15" stroke-linejoin="round"/>
<polyline points="62.00,317.40 63.17,317.41 64.88,317.42 66.64,317.42 68.00,317.40 69.06,317.56 70.00,317.10 71.49,315.82 73.31,314.03 75.00,312.20 76.97,309.70 78.80,307.00 80.74,303.83 82.70,300.50 84.65,297.21 86.60,294.00 88.48,291.06 90.50,288.20 92.10,286.19 93.83,284.20 95.50,282.35 97.02,280.86 98.48,278.84 100.00,277.17 101.63,276.55 103.31,274.69 105.00,274.65 106.67,272.59 108.33,271.71 110.00,270.25 111.67,268.93 113.33,269.68 115.00,267.57 116.67,267.41 118.33,265.59 120.00,265.65 121.67,263.46 123.33,264.48 125.00,263.13 126.67,263.04 128.33,261.99 130.00,260.50 131.59,259.77 133.19,260.50 135.00,259.24 136.27,259.93 137.64,257.52 139.08,258.47 140.54,257.34 142.00,258.26 143.45,257.69 144.93,255.34 146.41,255.29 147.91,255.39 149.40,254.64 150.90,254.15 152.40,254.79 153.90,254.63 155.40,253.70 156.90,254.74 158.32,254.00 159.68,252.96 161.06,253.59 162.57,252.54 164.30,253.51 165.56,251.96 166.95,250.96 168.44,252.05 169.97,251.36 171.51,251.51 173.00,250.72 174.42,251.86 175.70,251.22 177.50,249.86 179.11,250.79 180.61,249.85 182.08,249.89 183.60,250.73 185.18,250.18 186.76,249.36 188.34,250.12 189.92,250.35 191.50,249.33 193.08,248.14 194.66,248.09 196.25,248.47 197.83,247.04 199.40,246.84 200.95,247.22 202.48,247.62 204.02,246.38 205.58,246.16 207.20,247.67 208.68,246.01 210.30,247.44 211.94,245.42 213.49,246.74 214.85,245.82 215.90,246.80 217.24,244.92 217.50,244.99" fill="none" stroke="#52a431" stroke-width="1.15" stroke-linejoin="round"/>
<line x1="61.7" y1="207.3" x2="61.7" y2="318.0" stroke="#2b2b2b" stroke-width="1.2"/>
<line x1="61.1" y1="317.5" x2="227.2" y2="317.5" stroke="#2b2b2b" stroke-width="1.2"/>
<text transform="translate(221.7,248.7) scale(0.89,1)" x="0" y="0" font-size="8.4" fill="#282828">HC CRP-X<tspan font-size="5.6" dy="2.0">L</tspan><tspan font-size="5.8" dx="0.6" dy="-5.6">Hi</tspan></text>
<text transform="translate(221.7,264.1) scale(0.89,1)" x="0" y="0" font-size="8.4" fill="#282828">S CRP-X<tspan font-size="5.6" dy="2.0">L</tspan><tspan font-size="5.8" dx="0.6" dy="-5.6">Hi</tspan></text>
<text transform="translate(221.7,273.8) scale(0.89,1)" x="0" y="0" font-size="8.4" fill="#282828">HC CRP-X<tspan font-size="5.6" dy="2.0">L</tspan></text>
<text transform="translate(221.7,316.4) scale(0.89,1)" x="0" y="0" font-size="8.4" fill="#282828">S CRP-X<tspan font-size="5.6" dy="2.0">L</tspan></text>
<text x="130.8" y="329.9" font-size="10.5" text-anchor="start" font-weight="normal" fill="#303030" textLength="28.2" lengthAdjust="spacingAndGlyphs" >Time [s]</text>
<text x="7.9" y="380.2" font-size="11.8" text-anchor="start" font-weight="bold" fill="#111" >E</text>
<line x1="87" y1="394" x2="140" y2="394" stroke="#2b2b2b" stroke-width="1.4"/>
<text x="113.5" y="388.8" font-size="9.6" text-anchor="middle" font-weight="normal" fill="#303030" textLength="11.9" lengthAdjust="spacingAndGlyphs" >HC</text>
<line x1="148.3" y1="394" x2="200.8" y2="394" stroke="#2b2b2b" stroke-width="1.4"/>
<text x="174.55" y="388.8" font-size="9.6" text-anchor="middle" font-weight="normal" fill="#303030" >S</text>
<text x="88.8" y="408.7" font-size="9.9" text-anchor="middle" font-weight="normal" fill="#303030" >-</text>
<text x="110.5" y="408.7" font-size="9.9" text-anchor="middle" font-weight="normal" fill="#303030" >C</text>
<text x="128.01" y="408.7" font-size="9.9" fill="#303030">C<tspan font-size="6.4" dy="-3.9">H</tspan></text>
<rect x="140.39" y="401.60" width="0.8" height="3.2" fill="#303030" opacity="0.9"/>
<rect x="140.39" y="400.30" width="0.8" height="0.8" fill="#303030" opacity="0.9"/>
<text x="152" y="408.7" font-size="9.9" text-anchor="middle" font-weight="normal" fill="#303030" >-</text>
<text x="172.5" y="408.7" font-size="9.9" text-anchor="middle" font-weight="normal" fill="#303030" >C</text>
<text x="187.31" y="408.7" font-size="9.9" fill="#303030">C<tspan font-size="6.4" dy="-3.9">H</tspan></text>
<rect x="199.69" y="401.60" width="0.8" height="3.2" fill="#303030" opacity="0.9"/>
<rect x="199.69" y="400.30" width="0.8" height="0.8" fill="#303030" opacity="0.9"/>
<defs><filter id="bl" x="-30%" y="-200%" width="160%" height="500%"><feGaussianBlur stdDeviation="1.4 0.75"/></filter><filter id="bl2" x="-30%" y="-30%" width="160%" height="160%"><feGaussianBlur stdDeviation="1.5"/></filter><filter id="blt" x="-30%" y="-300%" width="160%" height="700%"><feGaussianBlur stdDeviation="1.5 0.6"/></filter><filter id="blm" x="-30%" y="-200%" width="160%" height="500%"><feGaussianBlur stdDeviation="0.9 0.8"/></filter></defs>
<rect x="57.6" y="413.6" width="149.8" height="59.7" fill="#f9f9fb"/>
<rect x="57.6" y="477.8" width="149.8" height="20.6" fill="#f9f9fb"/>
<rect x="76" y="416" width="21.5" height="55" fill="#202030" opacity="0.02" filter="url(#bl2)"/>
<rect x="100.4" y="416" width="18.69999999999999" height="55" fill="#202030" opacity="0.06" filter="url(#bl2)"/>
<rect x="122.5" y="416" width="18.0" height="55" fill="#202030" opacity="0.06" filter="url(#bl2)"/>
<rect x="143.4" y="416" width="16.799999999999983" height="55" fill="#202030" opacity="0.015" filter="url(#bl2)"/>
<rect x="164" y="416" width="16.400000000000006" height="55" fill="#202030" opacity="0.035" filter="url(#bl2)"/>
<rect x="185.1" y="416" width="17.900000000000006" height="55" fill="#202030" opacity="0.03" filter="url(#bl2)"/>
<rect x="61.8" y="423.65000000000003" width="13.0" height="2.3" rx="1" fill="#4a78c8" opacity="1" filter="url(#blm)"/>
<rect x="61.3" y="436.2" width="12.100000000000009" height="3.6" rx="1" fill="#6d96d8" opacity="1" filter="url(#blm)"/>
<rect x="60.3" y="447.3" width="12.100000000000009" height="6.0" rx="1" fill="#e25050" opacity="1" filter="url(#blm)"/>
<rect x="59.4" y="463.3" width="11.399999999999999" height="5.0" rx="1" fill="#4d7ccc" opacity="1" filter="url(#blm)"/>
<rect x="59.8" y="489.2" width="10.5" height="3.6" rx="1" fill="#6b9ee0" opacity="1" filter="url(#blm)"/>
<rect x="60" y="498.20000000000005" width="10" height="0.8" rx="1" fill="#e06070" opacity="0.6" filter="url(#blm)"/>
<rect x="77.5" y="424.20" width="19.50" height="1.8" rx="0.9" fill="#080810" opacity="0.375" filter="url(#blt)"/>
<rect x="77.5" y="434.30" width="19.50" height="1.4" rx="0.7" fill="#080810" opacity="0.045" filter="url(#blt)"/>
<rect x="77.5" y="448.30" width="19.50" height="1.8" rx="0.9" fill="#080810" opacity="0.225" filter="url(#blt)"/>
<rect x="77.5" y="452.90" width="19.50" height="2.2" rx="1.1" fill="#080810" opacity="0.45" filter="url(#blt)"/>
<rect x="77.5" y="467.10" width="19.50" height="1.4" rx="0.7" fill="#080810" opacity="0.225" filter="url(#blt)"/>
<rect x="100.9" y="419.30" width="17.70" height="1.8" rx="0.9" fill="#080810" opacity="0.413" filter="url(#blt)"/>
<rect x="100.9" y="424.00" width="17.70" height="2.2" rx="1.1" fill="#080810" opacity="0.562" filter="url(#blt)"/>
<rect x="100.9" y="428.60" width="17.70" height="1.4" rx="0.7" fill="#080810" opacity="0.225" filter="url(#blt)"/>
<rect x="100.9" y="434.20" width="17.70" height="1.8" rx="0.9" fill="#080810" opacity="0.3" filter="url(#blt)"/>
<rect x="100.9" y="440.30" width="17.70" height="1.4" rx="0.7" fill="#080810" opacity="0.09" filter="url(#blt)"/>
<rect x="100.9" y="446.40" width="17.70" height="4.4" rx="2" fill="#080810" opacity="0.675" filter="url(#blt)"/>
<rect x="100.9" y="454.10" width="17.70" height="2.2" rx="1.1" fill="#080810" opacity="0.45" filter="url(#blt)"/>
<rect x="100.9" y="468.30" width="17.70" height="1.4" rx="0.7" fill="#080810" opacity="0.262" filter="url(#blt)"/>
<rect x="123.0" y="419.30" width="17.00" height="1.8" rx="0.9" fill="#080810" opacity="0.488" filter="url(#blt)"/>
<rect x="123.0" y="424.00" width="17.00" height="2.2" rx="1.1" fill="#080810" opacity="0.6" filter="url(#blt)"/>
<rect x="123.0" y="428.60" width="17.00" height="1.4" rx="0.7" fill="#080810" opacity="0.262" filter="url(#blt)"/>
<rect x="123.0" y="434.20" width="17.00" height="1.8" rx="0.9" fill="#080810" opacity="0.375" filter="url(#blt)"/>
<rect x="123.0" y="440.30" width="17.00" height="1.4" rx="0.7" fill="#080810" opacity="0.112" filter="url(#blt)"/>
<rect x="123.0" y="455.30" width="17.00" height="2.2" rx="1.1" fill="#080810" opacity="0.488" filter="url(#blt)"/>
<rect x="123.0" y="468.30" width="17.00" height="1.4" rx="0.7" fill="#080810" opacity="0.262" filter="url(#blt)"/>
<rect x="143.9" y="423.90" width="15.80" height="1.8" rx="0.9" fill="#080810" opacity="0.262" filter="url(#blt)"/>
<rect x="143.9" y="434.20" width="15.80" height="1.4" rx="0.7" fill="#080810" opacity="0.053" filter="url(#blt)"/>
<rect x="143.9" y="440.30" width="15.80" height="1.4" rx="0.7" fill="#080810" opacity="0.053" filter="url(#blt)"/>
<rect x="143.9" y="449.00" width="15.80" height="1.4" rx="0.7" fill="#080810" opacity="0.09" filter="url(#blt)"/>
<rect x="143.9" y="453.90" width="15.80" height="1.8" rx="0.9" fill="#080810" opacity="0.3" filter="url(#blt)"/>
<rect x="143.9" y="467.80" width="15.80" height="1.4" rx="0.7" fill="#080810" opacity="0.262" filter="url(#blt)"/>
<rect x="164.5" y="418.70" width="15.40" height="1.4" rx="0.7" fill="#080810" opacity="0.188" filter="url(#blt)"/>
<rect x="164.5" y="423.10" width="15.40" height="2.0" rx="1.0" fill="#080810" opacity="0.488" filter="url(#blt)"/>
<rect x="164.5" y="434.20" width="15.40" height="1.4" rx="0.7" fill="#080810" opacity="0.105" filter="url(#blt)"/>
<rect x="164.5" y="445.90" width="15.40" height="3.2" rx="1.6" fill="#080810" opacity="0.338" filter="url(#blt)"/>
<rect x="164.5" y="452.70" width="15.40" height="2.0" rx="1.0" fill="#080810" opacity="0.45" filter="url(#blt)"/>
<rect x="164.5" y="467.40" width="15.40" height="1.4" rx="0.7" fill="#080810" opacity="0.188" filter="url(#blt)"/>
<rect x="185.6" y="418.70" width="16.90" height="1.4" rx="0.7" fill="#080810" opacity="0.262" filter="url(#blt)"/>
<rect x="185.6" y="422.50" width="16.90" height="2.0" rx="1.0" fill="#080810" opacity="0.413" filter="url(#blt)"/>
<rect x="185.6" y="433.50" width="16.90" height="1.4" rx="0.7" fill="#080810" opacity="0.128" filter="url(#blt)"/>
<rect x="185.6" y="444.70" width="16.90" height="2.8" rx="1.4" fill="#080810" opacity="0.488" filter="url(#blt)"/>
<rect x="185.6" y="448.60" width="16.90" height="1.8" rx="0.9" fill="#080810" opacity="0.262" filter="url(#blt)"/>
<rect x="185.6" y="452.70" width="16.90" height="2.0" rx="1.0" fill="#080810" opacity="0.413" filter="url(#blt)"/>
<rect x="185.6" y="466.90" width="16.90" height="1.4" rx="0.7" fill="#080810" opacity="0.188" filter="url(#blt)"/>
<rect x="75" y="458.10" width="20.00" height="3.2" rx="1.6" fill="#080810" opacity="1" filter="url(#bl)"/>
<rect x="99.8" y="458.75" width="18.20" height="3.3" rx="1.65" fill="#080810" opacity="1" filter="url(#bl)"/>
<rect x="122" y="458.75" width="18.50" height="3.3" rx="1.65" fill="#080810" opacity="1" filter="url(#bl)"/>
<rect x="100" y="444.50" width="19.00" height="9" rx="2" fill="#080810" opacity="0.25" filter="url(#bl2)"/>
<rect x="121" y="443.10" width="21.00" height="11" rx="2" fill="#080810" opacity="0.45" filter="url(#bl2)"/>
<rect x="121.5" y="444.90" width="20.00" height="7.2" rx="2" fill="#080810" opacity="1" filter="url(#bl)"/>
<rect x="122" y="446.10" width="19.00" height="4.8" rx="2" fill="#080810" opacity="1" filter="url(#bl)"/>
<rect x="143.4" y="459.40" width="16.80" height="3.0" rx="1.5" fill="#080810" opacity="1" filter="url(#bl)"/>
<rect x="164" y="458.65" width="16.40" height="2.9" rx="1.45" fill="#080810" opacity="1" filter="url(#bl)"/>
<rect x="186" y="457.40" width="16.50" height="2.8" rx="1.4" fill="#080810" opacity="1" filter="url(#bl)"/>
<rect x="72.7" y="490.65" width="20.00" height="2.3" rx="1.15" fill="#080810" opacity="0.95" filter="url(#bl)"/>
<rect x="98.8" y="490.65" width="15.40" height="2.3" rx="1.15" fill="#080810" opacity="0.95" filter="url(#bl)"/>
<rect x="121.2" y="490.25" width="15.70" height="2.3" rx="1.15" fill="#080810" opacity="0.95" filter="url(#bl)"/>
<rect x="141.5" y="489.30" width="17.00" height="3.2" rx="1.6" fill="#080810" opacity="1" filter="url(#bl)"/>
<rect x="161.5" y="488.80" width="18.00" height="2.8" rx="1.4" fill="#080810" opacity="1" filter="url(#bl)"/>
<rect x="183.8" y="487.85" width="17.70" height="2.5" rx="1.25" fill="#080810" opacity="1" filter="url(#bl)"/>
<text x="53.8" y="428.0" font-size="8.5" text-anchor="end" font-weight="normal" fill="#303030" >130</text>
<text x="53.8" y="441.0" font-size="8.5" text-anchor="end" font-weight="normal" fill="#303030" >95</text>
<text x="53.8" y="453.5" font-size="8.5" text-anchor="end" font-weight="normal" fill="#303030" >72</text>
<text x="53.8" y="469.5" font-size="8.5" text-anchor="end" font-weight="normal" fill="#303030" >55</text>
<text x="53.8" y="493.0" font-size="8.5" text-anchor="end" font-weight="normal" fill="#303030" >36</text>
<text x="212" y="450.2" font-size="8.8" text-anchor="start" font-weight="normal" fill="#303030" >&#945;-pTyr</text>
<text x="212" y="489.2" font-size="8.8" text-anchor="start" font-weight="normal" fill="#303030" >&#945;-GAPDH</text>
<rect x="0" y="0" width="1.1" height="540" fill="#000"/>
<rect x="0" y="0" width="520" height="1.1" fill="#000"/>
<rect x="518.7" y="0" width="1.3" height="540" fill="#000"/>
<rect x="0" y="538.6" width="520" height="1.4" fill="#000"/>
</svg>
</body></html>
